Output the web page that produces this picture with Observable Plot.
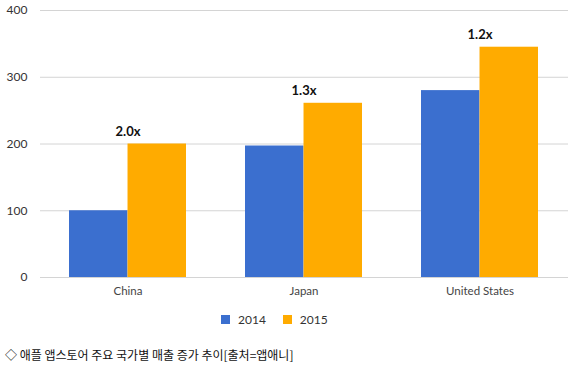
<!DOCTYPE html>
<html><head><meta charset="utf-8">
<script src="https://cdn.jsdelivr.net/npm/d3@7"></script>
<script src="https://cdn.jsdelivr.net/npm/@observablehq/plot@0.6"></script>
<style>
body{margin:0;background:#fff;width:587px;height:368px;position:relative;overflow:hidden;font-family:Lato,"Open Sans",sans-serif}
#chart{position:absolute;left:0;top:0}
#legend{position:absolute;left:221px;top:310px;height:18px;display:flex;align-items:center;font-size:12px;color:#333}
#legend span.sw{display:inline-block;width:9px;height:9px;margin-right:8px}
#legend span.lb{margin-right:17px}
#caption{position:absolute;left:5px;top:346px;font-family:"Noto Sans CJK KR",sans-serif;font-size:12px;color:#111;line-height:18px}
</style></head>
<body>
<div id="chart"></div>
<div id="legend"></div>
<div id="caption">◇ 애플 앱스토어 주요 국가별 매출 증가 추이[출처=앱애니]</div>
<script>
const countries = ["China", "Japan", "United States"];
const years = ["2014", "2015"];
const sales2014 = [100, 197, 280];
const sales2015 = [200, 261, 345];
const growthLabels = ["2.0x", "1.3x", "1.2x"];
const yTicks = [0, 100, 200, 300, 400];
const colors = ["#3b6fcf", "#ffab00"];

const d2014 = countries.map((c, i) => ({country: c, year: "2014", value: sales2014[i]}));
const d2015 = countries.map((c, i) => ({country: c, year: "2015", value: sales2015[i]}));
const labels = countries.map((c, i) => ({country: c, value: sales2015[i], label: growthLabels[i]}));

const W = 587, ML = 40, MR = 19;
const padInner = 0.335, padOuter = padInner / 2;
const step = (W - ML - MR) / (countries.length - padInner + 2 * padOuter);
const half = step * (1 - padInner) / 2;

const chart = Plot.plot({
  width: W, height: 300,
  marginLeft: ML, marginRight: MR, marginTop: 10, marginBottom: 23,
  style: {fontFamily: "Lato, 'Open Sans', sans-serif", background: "#fff"},
  x: {domain: countries, paddingInner: padInner, paddingOuter: padOuter, label: null},
  y: {domain: [0, 400], label: null},
  marks: [
    Plot.ruleY(yTicks, {stroke: "#d4d4d4", strokeWidth: 1}),
    Plot.ruleX([0], {frameAnchor: "left", stroke: "#d4d4d4"}),
    Plot.axisY({ticks: yTicks, tickSize: 0, tickPadding: 13, fontSize: 12, color: "#333", label: null}),
    Plot.barY(d2014, {x: "country", y: "value", fill: colors[0], insetRight: half}),
    Plot.barY(d2015, {x: "country", y: "value", fill: colors[1], insetLeft: half}),
    Plot.text(labels, {x: "country", y: "value", text: "label", dy: -12, fontWeight: "bold", fontSize: 13, fill: "#111"}),
    Plot.axisX({tickSize: 0, tickPadding: 9, fontSize: 11.5, color: "#444", label: null})
  ]
});
document.getElementById("chart").appendChild(chart);

const legend = document.getElementById("legend");
years.forEach((y, i) => {
  const sw = document.createElement("span"); sw.className = "sw"; sw.style.background = colors[i];
  const lb = document.createElement("span"); lb.className = "lb"; lb.textContent = y;
  legend.appendChild(sw); legend.appendChild(lb);
});
</script>
</body></html>
